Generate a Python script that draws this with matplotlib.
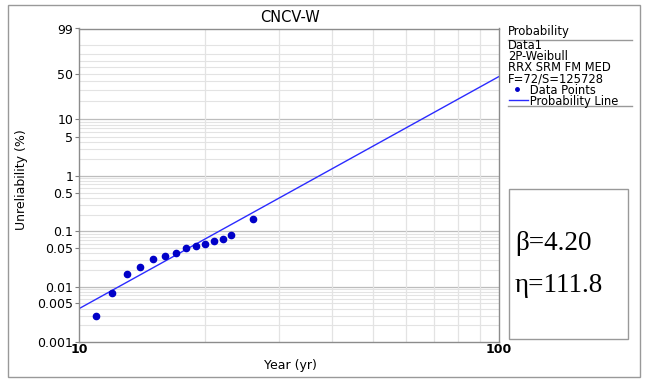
import numpy as np
import matplotlib
matplotlib.use("Agg")
import matplotlib.pyplot as plt
from matplotlib.patches import Rectangle
from matplotlib.lines import Line2D

plt.rcParams['font.family'] = ['DejaVu Sans']

# data
years = [11, 12, 13, 14, 15, 16, 17, 18, 19, 20, 21, 22, 23, 26]
unrel = [0.003, 0.0078, 0.0168, 0.023, 0.031, 0.036, 0.040, 0.050, 0.054, 0.060, 0.066, 0.072, 0.084, 0.168]
line_x = [10, 100]
line_y = [0.004, 46.5]

ytick_vals = [0.001, 0.005, 0.01, 0.05, 0.1, 0.5, 1, 5, 10, 50, 99]
ytick_labels = ['0.001', '0.005', '0.01', '0.05', '0.1', '0.5', '1', '5', '10', '50', '99']
legend_lines = ['Data1', '2P-Weibull', 'RRX SRM FM MED', 'F=72/S=125728']
legend_marks = ['Data Points', 'Probability Line']
beta_txt = 'β=4.20'
eta_txt = 'η=111.8'


def fwd(p):
    p = np.clip(np.asarray(p, dtype=float), 1e-9, 99.9999)
    return np.log(-np.log(1 - p / 100.0))


def inv(z):
    return 100.0 * (1 - np.exp(-np.exp(z)))


fig = plt.figure(figsize=(6.5, 3.84), dpi=100)
fig.patches.append(Rectangle((8 / 650, 1 - 377 / 384), 632 / 650, 372 / 384,
                             transform=fig.transFigure, fill=False,
                             edgecolor='#999999', linewidth=1.0))

ax = fig.add_axes([79 / 650, 1 - 342 / 384, 420 / 650, 313.5 / 384])
ax.set_xscale('log')
ax.set_yscale('function', functions=(fwd, inv))
ax.set_xlim(10, 100)
ax.set_ylim(0.001, 99)

# grid
light = '#e3e3e3'
dark = '#bdbdbd'
minor_y = []
for dec in [0.001, 0.01, 0.1, 1]:
    minor_y += [dec * k for k in range(2, 10)]
minor_y += [20, 30, 40, 50, 60, 70, 80, 90]
for v in minor_y:
    ax.axhline(v, color=light, linewidth=0.8, zorder=0)
for v in [0.01, 0.1, 1, 10]:
    ax.axhline(v, color=dark, linewidth=0.9, zorder=0)
for v in range(20, 100, 10):
    ax.axvline(v, color=light, linewidth=0.9, zorder=0)

ax.plot(line_x, line_y, color='#2b2bff', linewidth=1.0, zorder=2)
ax.plot(years, unrel, 'o', color='#0000c8', markersize=4.5, zorder=3)

ax.set_yticks(ytick_vals)
ax.set_yticklabels(ytick_labels)
ax.yaxis.set_minor_locator(matplotlib.ticker.NullLocator())
ax.set_xticks([10, 100])
ax.set_xticklabels(['10', '100'])
ax.xaxis.set_minor_locator(matplotlib.ticker.NullLocator())
ax.tick_params(axis='y', labelsize=9, length=3, color='#808080', pad=1)
ax.tick_params(axis='x', labelsize=9, length=0, pad=1)
for lab in ax.get_xticklabels():
    lab.set_fontweight('bold')
for s in ax.spines.values():
    s.set_color('#8c8c8c')
    s.set_linewidth(1.0)

fig.text(290 / 650, 1 - 18 / 384, 'CNCV-W', ha='center', va='center', fontsize=10.5)
fig.text(22 / 650, 1 - 180 / 384, 'Unreliability (%)', ha='center', va='center',
         rotation=90, fontsize=9)
fig.text(290 / 650, 1 - 365 / 384, 'Year (yr)', ha='center', va='center', fontsize=9)

# legend block
lx = 508 / 650
fig.text(lx, 1 - 32 / 384, 'Probability', ha='left', va='center', fontsize=8.4)
fig.add_artist(Line2D([508 / 650, 632 / 650], [1 - 40 / 384, 1 - 40 / 384],
                      color='#999999', linewidth=1.0))
block = legend_lines + ['      ' + t for t in legend_marks]
fig.text(lx, 1 - 73.5 / 384, '\n'.join(block), ha='left', va='center',
         fontsize=8.3, linespacing=0.81)
fig.add_artist(Line2D([517 / 650], [1 - 89 / 384], marker='o', color='#0000c8',
                      markersize=2.5, linestyle='none'))
fig.add_artist(Line2D([509 / 650, 528 / 650], [1 - 100 / 384, 1 - 100 / 384],
                      color='#2b2bff', linewidth=1.0))
fig.add_artist(Line2D([508 / 650, 632 / 650], [1 - 106 / 384, 1 - 106 / 384],
                      color='#999999', linewidth=1.0))

# parameter box
fig.patches.append(Rectangle((509 / 650, 1 - 339 / 384), 119 / 650, 150 / 384,
                             transform=fig.transFigure, fill=False,
                             edgecolor='#999999', linewidth=1.0))
fig.text(515 / 650, 1 - 243 / 384, beta_txt, ha='left', va='center', fontsize=19.5,
         family='Liberation Serif')
fig.text(515 / 650, 1 - 285 / 384, eta_txt, ha='left', va='center', fontsize=19.5,
         family='Liberation Serif')

fig.savefig('out.png', dpi=100)
